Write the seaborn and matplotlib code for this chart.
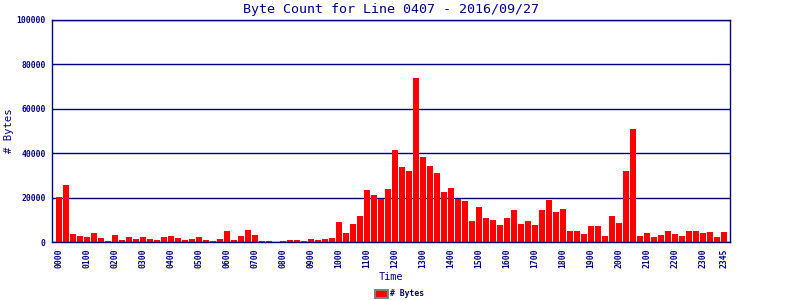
import matplotlib
matplotlib.use("Agg")
import matplotlib.pyplot as plt
from matplotlib.patches import Patch
import seaborn as sns
import pandas as pd

# ---- data ----
times = [f"{h:02d}{m:02d}" for h in range(24) for m in (0, 15, 30, 45)]
byte_counts = [
    20300, 25900, 3700, 2700, 2300, 4100, 1800, 500,
    3200, 900, 2300, 1400, 2300, 1400, 900, 2300,
    2700, 1800, 900, 1400, 2300, 900, 500, 1400,
    5000, 900, 2700, 5500, 3200, 500, 500, 100,
    500, 900, 900, 500, 1400, 900, 1400, 1800,
    9200, 4100, 8200, 11500, 23400, 21100, 19200, 23800,
    41500, 33800, 32000, 73800, 38300, 34300, 31200, 22300,
    24400, 19200, 18300, 9600, 15600, 11000, 10100, 7800,
    11000, 14200, 8200, 9600, 7800, 14200, 18800, 13300,
    14700, 5000, 5000, 3700, 7300, 7300, 2700, 11500,
    8700, 32000, 51000, 2700, 4100, 2300, 3200, 5000,
    3700, 2700, 5000, 5000, 4100, 4600, 2300, 4600,
]
y_ticks = [0, 20000, 40000, 60000, 80000, 100000]
title = "Byte Count for Line 0407 - 2016/09/27"
x_label = "Time"
y_label = "# Bytes"
legend_label = "# Bytes"

df = pd.DataFrame({"time": times, "bytes": byte_counts})

NAVY = "#000080"
MONO = "DejaVu Sans Mono"

fig = plt.figure(figsize=(8, 3), dpi=100)
ax = fig.add_axes([52 / 800, 1 - 242 / 300, 678 / 800, 222 / 300])

sns.barplot(data=df, x="time", y="bytes", color="#ff0000", saturation=1,
            width=6 / 7, linewidth=0, ax=ax, zorder=3)

ax.set_xlim(-1.0, len(times) - 1 + 0.857)
ax.set_ylim(0, 100000)
ax.set_axisbelow(True)

# gridlines
ax.set_yticks(y_ticks)
ax.yaxis.grid(True, color=NAVY, linewidth=1.0)
for s in ax.spines.values():
    s.set_color(NAVY)
    s.set_linewidth(1.0)
    s.set_zorder(4)

# x ticks: every hour plus the last slot
tick_idx = [i for i, t in enumerate(times) if t.endswith("00")] + [len(times) - 1]
ax.set_xticks(tick_idx)
ax.set_xticklabels([times[i] for i in tick_idx], rotation=90,
                   fontfamily=MONO, fontweight="bold", fontsize=5.8, color=NAVY)
ax.set_yticklabels([str(v) for v in y_ticks],
                   fontfamily=MONO, fontweight="bold", fontsize=5.8, color=NAVY)
ax.tick_params(axis="x", length=0, pad=4.5)
ax.tick_params(axis="y", length=0, pad=4.5)

ax.set_xlabel(x_label, fontfamily=MONO, fontsize=7.4, color=NAVY, va="top")
ax.xaxis.set_label_coords(0.5, (242 - 272) / 222)
ax.set_ylabel(y_label, fontfamily=MONO, fontsize=7.6, color=NAVY)
ax.yaxis.set_label_coords((14 - 52) / 678, 0.5)
ax.set_title(title, fontfamily=MONO, fontsize=9.6, color=NAVY, pad=5)

handle = Patch(facecolor="#ff0000", edgecolor="#808080", linewidth=1.4)
fig.legend(handles=[handle], labels=[legend_label], loc="center",
           bbox_to_anchor=(0.5, 1 - 294 / 300), frameon=False,
           handlelength=1.5, handleheight=1.15, handletextpad=0.35,
           prop={"family": MONO, "weight": "bold", "size": 5.8},
           labelcolor=NAVY)

fig.savefig("out.png", dpi=100)
